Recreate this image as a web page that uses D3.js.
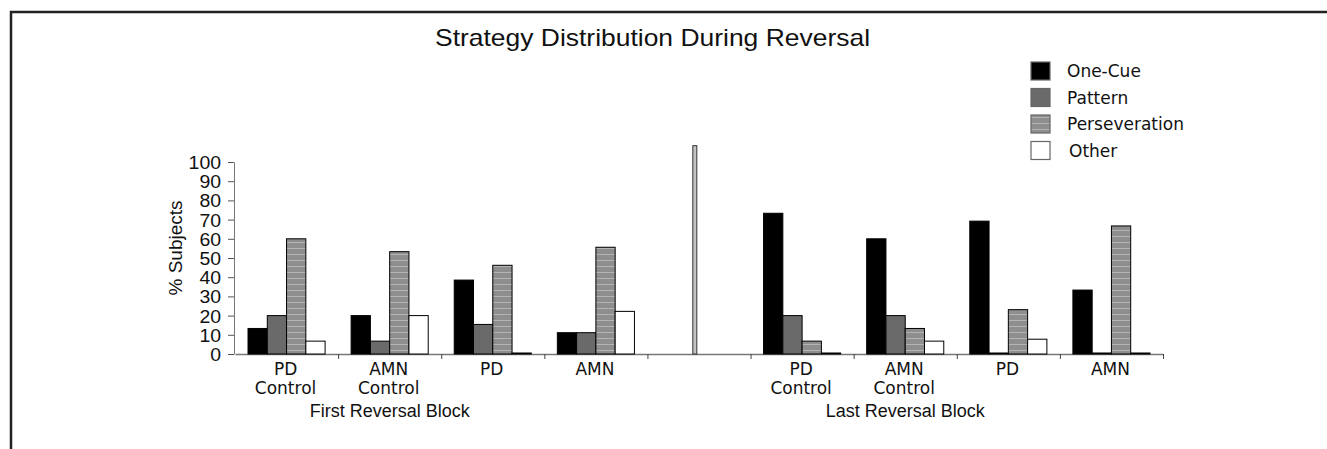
<!DOCTYPE html>
<html>
<head>
<meta charset="utf-8">
<script src="https://cdn.jsdelivr.net/npm/d3@7"></script>
<style>
  html, body { margin: 0; padding: 0; background: #fff; }
  svg { display: block; }
</style>
</head>
<body>
<div id="chart"></div>
<script>
// chart data
const strategies = ['One-Cue', 'Pattern', 'Perseveration', 'Other'];
const groupLabels = [['PD', 'Control'], ['AMN', 'Control'], ['PD'], ['AMN']];
const blockLabels = ['First Reversal Block', 'Last Reversal Block'];
// % subjects per group, in strategy order
const firstBlock = [
  [13.3, 20, 60, 6.7],
  [20, 6.7, 53.3, 20],
  [38.5, 15.4, 46.2, 0],
  [11.1, 11.1, 55.6, 22.2],
];
const lastBlock = [
  [73.3, 20, 6.7, 0],
  [60, 20, 13.3, 6.7],
  [69.2, 0, 23.1, 7.7],
  [33.3, 0, 66.7, 0],
];
const yTicks = [0, 10, 20, 30, 40, 50, 60, 70, 80, 90, 100];

const width = 1327;
const height = 449;
const sans = '"Liberation Sans", Arial, Helvetica, sans-serif';
const verdana = '"DejaVu Sans", Verdana, sans-serif';

// one slot per group, with an empty slot between the two blocks
const slots = [];
firstBlock.forEach((vals, i) => slots.push({ key: `first-${i}`, label: groupLabels[i], vals }));
slots.push({ key: 'gap', label: [], vals: [] });
lastBlock.forEach((vals, i) => slots.push({ key: `last-${i}`, label: groupLabels[i], vals }));

const svg = d3.select('#chart')
  .append('svg')
  .attr('width', width)
  .attr('height', height);

// striped fill for Perseveration
const pat = svg.append('defs')
  .append('pattern')
  .attr('id', 'stripes')
  .attr('patternUnits', 'userSpaceOnUse')
  .attr('width', 6)
  .attr('height', 6);
pat.append('rect').attr('width', 6).attr('height', 6).attr('fill', '#8e8e8e');
pat.append('rect').attr('y', 2).attr('width', 6).attr('height', 1).attr('fill', '#b4b4b4');

const fills = {
  'One-Cue': '#000',
  Pattern: '#6a6a6a',
  Perseveration: 'url(#stripes)',
  Other: '#fff',
};

// frame (top and left rule)
svg.append('path')
  .attr('d', 'M11,449V12H1327')
  .attr('fill', 'none')
  .attr('stroke', '#222')
  .attr('stroke-width', 2.5);

// scales
const x = d3.scaleBand()
  .domain(slots.map((d) => d.key))
  .range([235, 1163])
  .padding(0);
const xEdge = d3.scaleLinear()
  .domain([0, slots.length])
  .range(x.range());
const xInner = d3.scaleBand()
  .domain(strategies)
  .range([0, x.bandwidth()])
  .paddingInner(0)
  .paddingOuter(0.675);
const y = d3.scaleLinear()
  .domain([0, 100])
  .range([354, 162]);

// y axis
const yAxis = svg.append('g')
  .attr('transform', `translate(${x.range()[0] - 1},0)`)
  .call(d3.axisLeft(y).tickValues(yTicks).tickSize(6).tickSizeOuter(0).tickPadding(7));
yAxis.select('.domain').attr('stroke', '#777');
yAxis.selectAll('.tick line').attr('stroke', '#555');
yAxis.selectAll('.tick text')
  .attr('class', 'wide')
  .attr('dy', '0.36em')
  .attr('fill', '#111')
  .style('font-family', sans)
  .style('font-size', '18px');

// x axis with ticks at the slot edges
const xAxis = svg.append('g')
  .attr('transform', `translate(0,${y(0)})`)
  .call(d3.axisBottom(xEdge).tickValues(d3.range(1, slots.length + 1)).tickSize(5).tickSizeOuter(0).tickFormat(''));
xAxis.select('.domain').attr('stroke', '#777').attr('stroke-width', 1.5);
xAxis.selectAll('.tick line').attr('stroke', '#444');

// separator between the blocks
const gap = slots.find((d) => d.key === 'gap');
svg.append('rect')
  .attr('x', x(gap.key) + x.bandwidth() * 0.44)
  .attr('y', y(108.5))
  .attr('width', 4)
  .attr('height', y(0) - y(108.5))
  .attr('fill', '#c4c4c4')
  .attr('stroke', '#333')
  .attr('stroke-width', 1);

// bars
const groups = svg.append('g')
  .selectAll('g')
  .data(slots.filter((d) => d.vals.length))
  .join('g')
  .attr('transform', (d) => `translate(${x(d.key)},0)`);

groups.selectAll('rect')
  .data((d) => d.vals.map((v, i) => ({ strategy: strategies[i], value: v })))
  .join('rect')
  .attr('x', (d) => xInner(d.strategy))
  .attr('y', (d) => Math.min(y(d.value), y(0) - 1))
  .attr('width', xInner.bandwidth())
  .attr('height', (d) => Math.max(y(0) - y(d.value), 1))
  .attr('fill', (d) => fills[d.strategy])
  .attr('stroke', '#000')
  .attr('stroke-width', 1);

// category labels
groups.append('text')
  .attr('text-anchor', 'middle')
  .style('font-family', verdana)
  .style('font-size', '17px')
  .attr('fill', '#111')
  .selectAll('tspan')
  .data((d) => d.label)
  .join('tspan')
  .attr('x', x.bandwidth() / 2 - 1)
  .attr('y', (d, i) => 375 + i * 19)
  .text((d) => d);

// block labels, centered under the second group of each block
blockLabels.forEach((label, i) => {
  const key = i === 0 ? 'first-1' : 'last-1';
  svg.append('text')
    .attr('x', x(key) + x.bandwidth() / 2)
    .attr('y', 417)
    .attr('text-anchor', 'middle')
    .style('font-family', sans)
    .style('font-size', '18px')
    .attr('fill', '#111')
    .text(label);
});

// y label
svg.append('text')
  .attr('transform', `translate(182,248) rotate(-90)`)
  .attr('text-anchor', 'middle')
  .style('font-family', sans)
  .style('font-size', '19px')
  .attr('fill', '#111')
  .text('% Subjects');

// title
svg.append('text')
  .attr('x', 435)
  .attr('y', 46)
  .attr('textLength', 435)
  .attr('lengthAdjust', 'spacingAndGlyphs')
  .style('font-family', sans)
  .style('font-size', '24px')
  .attr('fill', '#111')
  .text('Strategy Distribution During Reversal');

// legend
const legend = svg.append('g')
  .selectAll('g')
  .data(strategies)
  .join('g')
  .attr('transform', (d, i) => `translate(1031,${62 + i * 26.5})`);
legend.append('rect')
  .attr('width', 19)
  .attr('height', 18)
  .attr('fill', (d) => fills[d])
  .attr('stroke', '#666')
  .attr('stroke-width', 1.2);
legend.append('text')
  .attr('x', (d) => (d === 'Other' ? 38 : 36))
  .attr('y', 15)
  .style('font-family', verdana)
  .style('font-size', '17px')
  .attr('fill', '#111')
  .text((d) => d);

// widen tick labels a little to match the source
svg.selectAll('text.wide').each(function () {
  const len = this.getComputedTextLength();
  d3.select(this).attr('textLength', len * 1.08).attr('lengthAdjust', 'spacingAndGlyphs');
});
</script>
</body>
</html>
